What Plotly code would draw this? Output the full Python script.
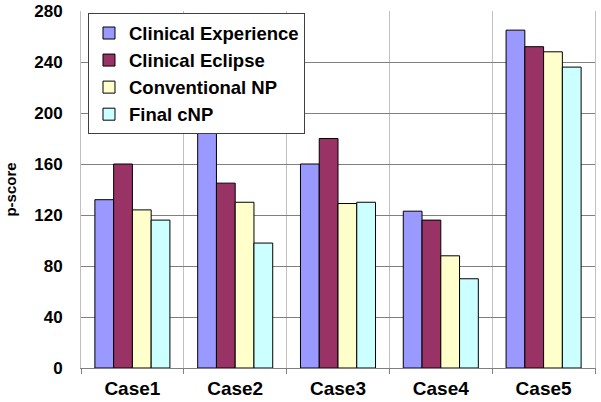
import plotly.graph_objects as go

categories = ["Case1", "Case2", "Case3", "Case4", "Case5"]
series_names = ["Clinical Experience", "Clinical Eclipse", "Conventional NP", "Final cNP"]
clinical_experience = [132, 187, 160, 123, 265]
clinical_eclipse = [160, 145, 180, 116, 252]
conventional_np = [124, 130, 129, 88, 248]
final_cnp = [116, 98, 130, 70, 236]
colors = ["#9999FF", "#993366", "#FFFFCC", "#CCFFFF"]
y_ticks = [0, 40, 80, 120, 160, 200, 240, 280]

FONT = "Liberation Sans, Arial, sans-serif"
xpos = list(range(len(categories)))
bounds = [i - 0.5 for i in range(len(categories) + 1)]

fig = go.Figure()
for i, (name, vals) in enumerate(zip(series_names,
                                     [clinical_experience, clinical_eclipse, conventional_np, final_cnp])):
    fig.add_trace(go.Bar(
        x=xpos, y=vals, name=name, legendgroup=name,
        marker=dict(color=colors[i], line=dict(color="#000000", width=1)),
    ))

fig.update_layout(
    width=601, height=402,
    margin=dict(l=81, r=6, t=11, b=34),
    paper_bgcolor="white", plot_bgcolor="white",
    barmode="group", bargap=0.27, bargroupgap=0,
    font=dict(family=FONT, color="#000000"),
    showlegend=True,
    legend=dict(
        x=0.0136, y=0.993, xanchor="left", yanchor="top",
        bgcolor="white", bordercolor="#404040", borderwidth=1,
        font=dict(family=FONT, size=18.5, color="#000000", weight="bold"),
        tracegroupgap=2, traceorder="normal",
    ),
    xaxis=dict(
        range=[-0.5, len(categories) - 0.5], automargin=False,
        tickmode="array", tickvals=xpos, ticktext=categories,
        ticks="", showgrid=False, ticklabelstandoff=3,
        tickfont=dict(family=FONT, size=19, color="#000000", weight="bold"),
        showline=True, linecolor="#808080", linewidth=1,
        minor=dict(tickmode="array", tickvals=bounds, showgrid=True, gridcolor="#C0C0C0",
                   gridwidth=1, ticks="outside", ticklen=5, tickcolor="#808080"),
        zeroline=False,
    ),
    yaxis=dict(
        range=[0, 280], tickmode="array", tickvals=y_ticks, automargin=False,
        showgrid=True, gridcolor="#808080", gridwidth=1,
        tickfont=dict(family=FONT, size=17, color="#000000", weight="bold"),
        ticks="", ticklabelstandoff=14,
        showline=True, linecolor="#C0C0C0", linewidth=1, mirror=True,
        zeroline=False,
        title=dict(text="p-score", font=dict(family=FONT, size=15, color="#000000", weight="bold"),
                   standoff=13),
    ),
)

fig.write_html("out.html", config={"displayModeBar": False},
               post_script="document.body.style.margin='0';document.body.style.overflow='hidden';")
